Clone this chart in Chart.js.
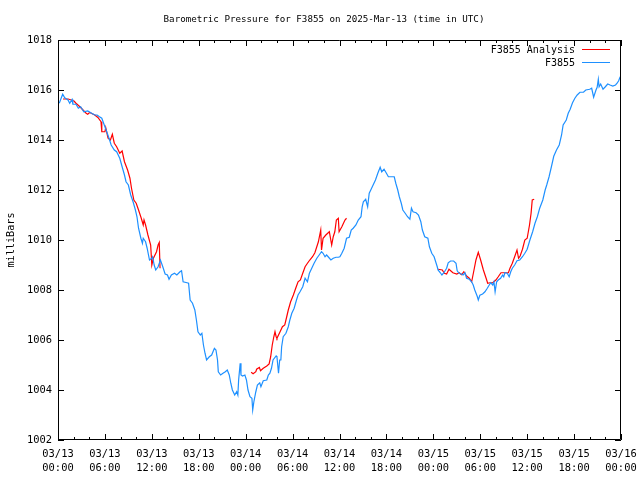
<!DOCTYPE html>
<html>
<head>
<meta charset="utf-8">
<script src="https://cdn.jsdelivr.net/npm/chart.js@4.4.1/dist/chart.umd.min.js"></script>
<style>
html,body{margin:0;padding:0;background:#fff;}
#wrap{width:640px;height:480px;}
</style>
</head>
<body>
<div id="wrap"><canvas id="c" width="640" height="480"></canvas></div>
<script>
// ---- data (hours since 2025-03-13 00:00 UTC, pressure in mb) ----
const titleText = 'Barometric Pressure for F3855 on 2025-Mar-13 (time in UTC)';
const yAxisTitle = 'milliBars';
const seriesNames = ['F3855 Analysis', 'F3855'];

const xTickHours = [0,6,12,18,24,30,36,42,48,54,60,66,72];
const xTickDates = ['03/13','03/13','03/13','03/13','03/14','03/14','03/14','03/14','03/15','03/15','03/15','03/15','03/16'];
const xTickTimes = ['00:00','06:00','12:00','18:00','00:00','06:00','12:00','18:00','00:00','06:00','12:00','18:00','00:00'];
const xMinorStepHours = 2;
const yTicks = [1002,1004,1006,1008,1010,1012,1014,1016,1018];

const blueHours = [0.0,0.2,0.6,0.86,1.28,1.5,1.8,1.9,2.3,2.6,2.9,3.3,3.8,4.3,4.7,5.0,5.3,5.6,6.0,6.3,6.6,6.8,7.2,7.5,7.9,8.2,8.5,8.7,9.0,9.3,9.6,9.9,10.1,10.3,10.6,10.8,10.9,11.2,11.4,11.7,12.0,12.1,12.3,12.5,12.8,13.1,13.4,13.7,14.0,14.2,14.5,14.9,15.2,15.6,15.8,16.0,16.5,16.7,16.9,17.2,17.5,17.7,17.9,18.2,18.4,18.6,18.8,19.0,19.35,19.65,20.0,20.2,20.4,20.5,20.8,21.1,21.4,21.65,21.9,22.1,22.3,22.6,22.85,23.0,23.1,23.3,23.4,23.6,23.9,24.1,24.3,24.55,24.8,24.9,25.05,25.3,25.5,25.8,25.95,26.25,26.7,26.9,27.1,27.3,27.5,27.9,28.0,28.2,28.35,28.5,28.6,28.8,29.15,29.45,29.65,29.9,30.2,30.5,30.7,30.95,31.3,31.6,31.9,32.15,32.45,32.75,33.1,33.4,33.7,33.9,34.15,34.35,34.55,34.9,35.2,35.55,35.85,36.05,36.3,36.6,36.9,37.25,37.5,37.75,38.1,38.4,38.75,38.9,39.05,39.35,39.6,39.8,40.0,40.3,40.6,40.9,41.2,41.4,41.7,42.0,42.25,42.7,43.0,43.2,43.45,43.65,43.9,44.1,44.4,44.7,45.0,45.2,45.4,45.8,46.1,46.4,46.6,46.9,47.3,47.5,47.8,48.1,48.5,48.6,48.9,49.1,49.35,49.7,49.9,50.2,50.6,50.9,51.05,51.3,51.6,51.8,52.05,52.25,52.6,52.9,53.1,53.3,53.6,53.75,53.95,54.3,54.6,54.9,55.15,55.35,55.6,55.75,55.9,56.1,56.3,56.6,56.85,57.0,57.15,57.45,57.7,57.9,58.1,58.4,58.7,59.05,59.4,59.7,60.0,60.35,60.7,61.0,61.3,61.6,62.0,62.3,62.5,62.8,63.1,63.4,63.75,64.1,64.4,64.6,65.0,65.25,65.5,65.8,66.1,66.4,66.75,67.2,67.5,68.0,68.25,68.5,68.8,68.95,69.1,69.2,69.4,69.7,70.0,70.3,70.6,70.95,71.3,71.5,71.7,71.9];
const blueValues = [1015.45,1015.5,1015.83,1015.69,1015.6,1015.47,1015.62,1015.43,1015.43,1015.27,1015.33,1015.13,1015.16,1015.07,1015.0,1015.0,1014.93,1014.87,1014.53,1014.27,1014.0,1013.8,1013.6,1013.53,1013.27,1012.93,1012.6,1012.33,1012.2,1011.8,1011.53,1011.2,1010.93,1010.47,1010.07,1009.87,1010.07,1009.93,1009.67,1009.2,1009.27,1009.33,1009.0,1008.8,1008.93,1009.2,1008.93,1008.64,1008.6,1008.43,1008.6,1008.67,1008.6,1008.73,1008.77,1008.33,1008.29,1008.27,1007.6,1007.47,1007.2,1006.8,1006.33,1006.2,1006.27,1005.8,1005.47,1005.2,1005.33,1005.4,1005.67,1005.6,1005.2,1004.73,1004.6,1004.67,1004.73,1004.8,1004.6,1004.27,1004.0,1003.8,1003.93,1003.8,1004.4,1005.07,1004.6,1004.56,1004.6,1004.4,1004.0,1003.73,1003.67,1003.2,1003.53,1003.93,1004.2,1004.29,1004.13,1004.37,1004.4,1004.6,1004.67,1004.87,1005.2,1005.36,1005.33,1004.67,1005.2,1005.2,1005.73,1006.13,1006.27,1006.53,1006.8,1007.07,1007.27,1007.6,1007.8,1007.93,1008.13,1008.47,1008.33,1008.67,1008.87,1009.07,1009.27,1009.4,1009.53,1009.47,1009.33,1009.4,1009.33,1009.2,1009.27,1009.31,1009.31,1009.33,1009.47,1009.67,1010.07,1010.11,1010.4,1010.47,1010.6,1010.8,1010.93,1011.33,1011.53,1011.63,1011.33,1011.87,1012.0,1012.2,1012.4,1012.67,1012.91,1012.73,1012.83,1012.67,1012.53,1012.53,1012.53,1012.27,1012.0,1011.73,1011.47,1011.2,1011.07,1010.93,1010.83,1011.27,1011.13,1011.09,1011.0,1010.73,1010.4,1010.13,1010.07,1009.73,1009.47,1009.33,1008.93,1008.8,1008.69,1008.6,1008.69,1008.87,1009.09,1009.16,1009.16,1009.07,1008.77,1008.67,1008.64,1008.6,1008.69,1008.47,1008.43,1008.33,1008.2,1008.0,1007.76,1007.6,1007.79,1007.84,1007.93,1008.07,1008.2,1008.29,1008.2,1008.33,1007.93,1008.33,1008.4,1008.47,1008.6,1008.53,1008.69,1008.67,1008.53,1008.73,1008.87,1009.0,1009.17,1009.2,1009.33,1009.47,1009.63,1010.0,1010.33,1010.67,1010.93,1011.27,1011.6,1012.0,1012.2,1012.53,1012.93,1013.35,1013.6,1013.8,1014.2,1014.6,1014.8,1015.07,1015.23,1015.49,1015.67,1015.8,1015.91,1015.91,1016.0,1016.03,1016.07,1015.71,1016.0,1016.11,1016.43,1016.13,1016.24,1016.03,1016.13,1016.24,1016.2,1016.16,1016.2,1016.27,1016.37,1016.53];

// analysis series: null marks the gaps between the three runs
const redHours = [0.64,1.3,1.7,2.05,2.3,2.8,3.2,3.6,3.8,4.05,4.7,5.1,5.5,5.6,6.0,6.1,6.4,6.7,6.95,7.2,7.5,7.9,8.2,8.5,8.9,9.2,9.4,9.7,10.0,10.3,10.65,10.9,11.0,11.2,11.5,11.85,12.0,12.2,12.6,12.8,12.95,13.05,
  18.0,
  24.7,24.95,25.3,25.4,25.75,25.9,26.25,26.7,27.0,27.2,27.4,27.6,27.75,27.9,28.0,28.4,28.7,29.0,29.25,29.45,29.75,30.1,30.4,30.7,31.0,31.3,31.6,31.9,32.2,32.55,32.85,33.3,33.6,33.7,33.9,34.25,34.7,35.0,35.2,35.4,35.6,35.85,35.95,36.3,36.7,36.9,
  42.0,
  48.6,49.15,49.4,49.7,50.0,50.5,51.0,51.3,51.6,51.9,52.25,52.6,52.9,53.2,53.45,53.75,54.05,54.4,54.75,54.95,55.25,55.6,56.0,56.3,56.65,57.15,57.6,57.8,58.1,58.4,58.7,58.9,59.1,59.4,59.7,60.0,60.3,60.5,60.65,60.9];
const redValues = [1015.64,1015.64,1015.6,1015.56,1015.47,1015.33,1015.2,1015.07,1015.03,1015.1,1015.0,1014.9,1014.73,1014.33,1014.33,1014.5,1014.07,1014.0,1014.23,1013.87,1013.73,1013.47,1013.56,1013.13,1012.8,1012.47,1012.07,1011.6,1011.47,1011.2,1010.87,1010.6,1010.8,1010.6,1010.2,1009.8,1009.0,1009.27,1009.53,1009.8,1009.9,1008.87,
  null,
  1004.71,1004.65,1004.73,1004.83,1004.9,1004.77,1004.87,1004.96,1005.04,1005.33,1005.8,1006.13,1006.33,1006.13,1006.07,1006.33,1006.53,1006.6,1006.93,1007.2,1007.53,1007.8,1008.07,1008.33,1008.4,1008.67,1008.93,1009.07,1009.2,1009.33,1009.49,1009.93,1010.4,1009.6,1010.07,1010.2,1010.33,1009.8,1010.13,1010.33,1010.8,1010.87,1010.33,1010.53,1010.8,1010.87,
  null,
  1008.83,1008.8,1008.67,1008.64,1008.83,1008.69,1008.64,1008.69,1008.61,1008.73,1008.56,1008.47,1008.33,1008.8,1009.2,1009.51,1009.2,1008.8,1008.47,1008.27,1008.29,1008.29,1008.4,1008.53,1008.69,1008.69,1008.69,1008.87,1009.07,1009.33,1009.6,1009.27,1009.36,1009.63,1010.0,1010.07,1010.6,1011.07,1011.6,1011.63];

// ---- styling ----
const FAMILY = '"DejaVu Sans Mono", "Liberation Mono", monospace';
const RED = '#ff0000';
const BLUE = '#1e90ff';

function pts(xs, ys){ return xs.map((x,i)=>({x:x, y:ys[i]})); }

const framePlugin = {
  id:'frame',
  afterDraw(chart){
    const c = chart.ctx, a = chart.chartArea;
    const xs = chart.scales.x, ys = chart.scales.y;
    c.save();
    c.strokeStyle = '#000'; c.lineWidth = 1;
    const L = Math.round(a.left)+0.5, R = Math.round(a.right)-0.5, T = Math.round(a.top)+0.5, B = Math.round(a.bottom)-0.5;
    c.beginPath();
    c.rect(L, T, R-L, B-T);
    yTicks.forEach(v=>{
      const p = Math.round(ys.getPixelForValue(v))+0.5;
      c.moveTo(L-0.5, p); c.lineTo(L+5.5, p);
      c.moveTo(R+0.5, p); c.lineTo(R-5.5, p);
    });
    for(let h = xs.min; h <= xs.max; h += xMinorStepHours){
      const major = xTickHours.indexOf(h) >= 0;
      const len = major ? 6 : 3;
      const p = Math.round(xs.getPixelForValue(h))+0.5;
      c.moveTo(p, B+0.5); c.lineTo(p, B+0.5-len);
      c.moveTo(p, T-0.5); c.lineTo(p, T-0.5+len);
    }
    c.stroke();
    c.fillStyle = '#000';
    c.textAlign = 'center'; c.textBaseline = 'middle';
    c.font = '9.2px ' + FAMILY;
    c.fillText(titleText, 324, 19.5);
    c.font = '10.2px ' + FAMILY;
    c.save();
    c.translate(11, (a.top+a.bottom)/2);
    c.rotate(-Math.PI/2);
    c.fillText(yAxisTitle, 0, 0);
    c.restore();
    c.font = '10px ' + FAMILY;
    c.textAlign = 'right';
    c.fillText(seriesNames[0], 575, 50);
    c.fillText(seriesNames[1], 575, 63);
    c.beginPath(); c.strokeStyle = RED; c.moveTo(582, 49.5); c.lineTo(610, 49.5); c.stroke();
    c.beginPath(); c.strokeStyle = BLUE; c.moveTo(582, 62.5); c.lineTo(610, 62.5); c.stroke();
    c.restore();
  }
};

new Chart(document.getElementById('c'), {
  type:'line',
  data:{
    datasets:[
      {label:seriesNames[1], data:pts(blueHours, blueValues), borderColor:BLUE, borderWidth:1.2, pointRadius:0, tension:0, fill:false},
      {label:seriesNames[0], data:pts(redHours, redValues), borderColor:RED, borderWidth:1.2, pointRadius:0, tension:0, fill:false, spanGaps:false}
    ]
  },
  options:{
    responsive:false, animation:false, events:[],
    layout:{padding:{left:0, right:19, top:40, bottom:0}},
    plugins:{legend:{display:false}, tooltip:{enabled:false}, title:{display:false}},
    scales:{
      x:{
        type:'linear', min:0, max:72,
        afterBuildTicks(s){ s.ticks = xTickHours.map(v=>({value:v})); },
        ticks:{
          font:{family:FAMILY, size:10.4, lineHeight:1.3},
          color:'#000', padding:8, maxRotation:0, minRotation:0, autoSkip:false,
          callback:(v)=>{ const i = xTickHours.indexOf(v); return i>=0 ? [xTickDates[i], xTickTimes[i]] : ''; }
        },
        grid:{display:false, drawTicks:false}, border:{display:false},
        afterFit(s){ s.height = 40; s.paddingLeft = 0; s.paddingRight = 0; }
      },
      y:{
        type:'linear', min:1002, max:1018,
        afterBuildTicks(s){ s.ticks = yTicks.map(v=>({value:v})); },
        ticks:{font:{family:FAMILY, size:10.4}, color:'#000', padding:6, callback:(v)=>String(v)},
        grid:{display:false, drawTicks:false}, border:{display:false},
        afterFit(s){ s.width = 58; s.paddingTop = 0; s.paddingBottom = 0; }
      }
    }
  },
  plugins:[framePlugin]
});
</script>
</body>
</html>
